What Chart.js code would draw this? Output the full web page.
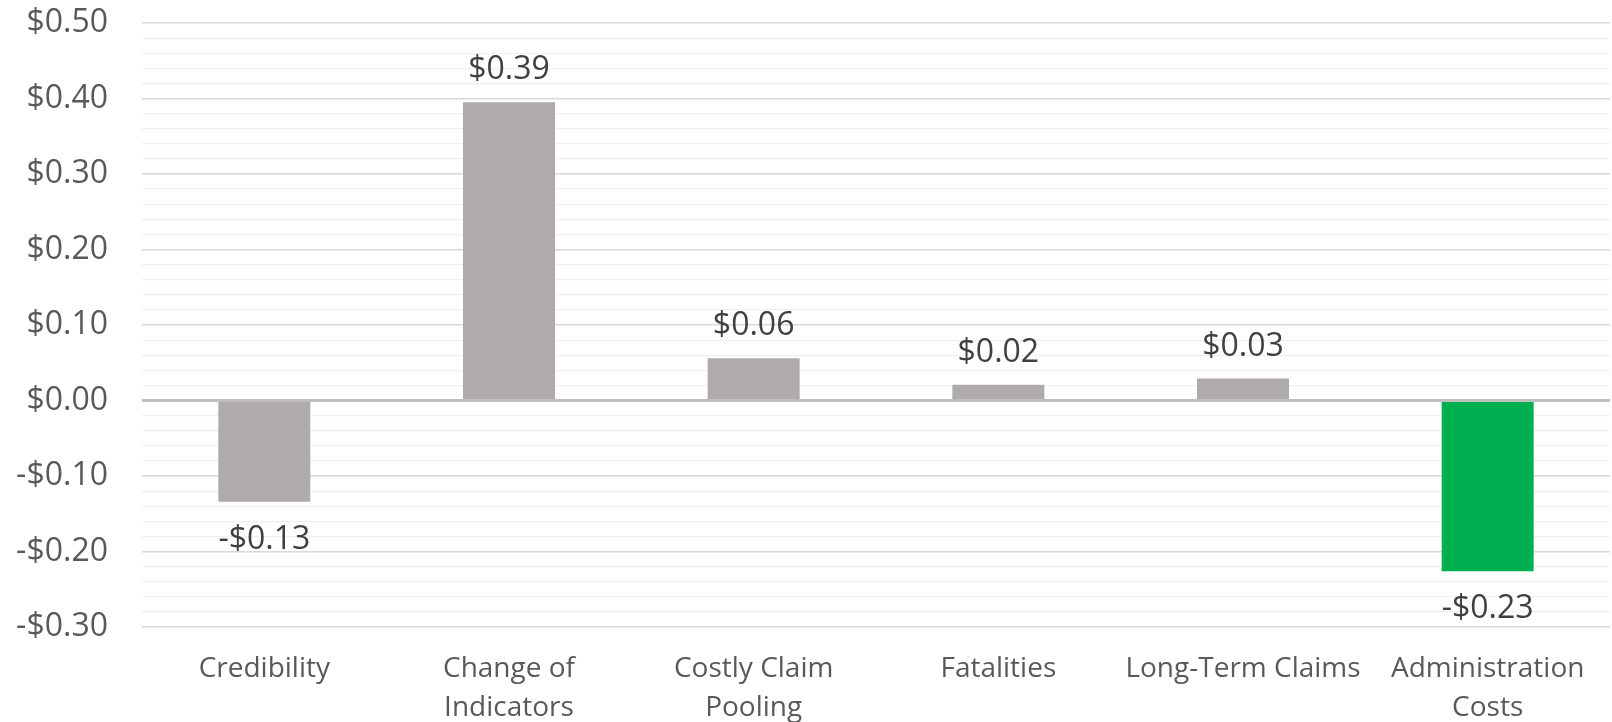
<!DOCTYPE html>
<html>
<head>
<meta charset="utf-8">
<script src="https://cdn.jsdelivr.net/npm/chart.js@4"></script>
<style>
  html, body { margin: 0; padding: 0; background: #fff; }
  #wrap { width: 1612px; height: 722px; }
</style>
</head>
<body>
<div id="wrap"><canvas id="chart" width="1612" height="722"></canvas></div>
<script>
const categories = [['Credibility'], ['Change of', 'Indicators'], ['Costly Claim', 'Pooling'], ['Fatalities'], ['Long-Term Claims'], ['Administration', 'Costs']];
const values = [-0.134, 0.395, 0.056, 0.021, 0.029, -0.226];
const valueLabels = ['-$0.13', '$0.39', '$0.06', '$0.02', '$0.03', '-$0.23'];
const barColors = ['#AFABAB', '#AFABAB', '#AFABAB', '#AFABAB', '#AFABAB', '#00B050'];
const yMin = -0.30, yMax = 0.50, yStep = 0.02;

function money(v) {
  const s = '$' + Math.abs(v).toFixed(2);
  return v < -0.0001 ? '-' + s : s;
}

// draws the value above / below each bar
const barLabels = {
  id: 'barLabels',
  afterDatasetsDraw(chart) {
    const ctx = chart.ctx;
    const meta = chart.getDatasetMeta(0);
    ctx.save();
    ctx.font = '32px "Open Sans", "Noto Sans", sans-serif';
    ctx.fillStyle = '#404040';
    ctx.textAlign = 'center';
    ctx.textBaseline = 'middle';
    meta.data.forEach((bar, i) => {
      const v = values[i];
      const y = v >= 0 ? bar.y - 32 : bar.y + 38;
      ctx.fillText(valueLabels[i], bar.x, y);
    });
    ctx.restore();
  }
};

new Chart(document.getElementById('chart'), {
  type: 'bar',
  data: {
    labels: categories,
    datasets: [{
      data: values,
      backgroundColor: barColors,
      borderWidth: 0,
      categoryPercentage: 1,
      barPercentage: 0.376
    }]
  },
  options: {
    responsive: false,
    devicePixelRatio: 1,
    animation: false,
    layout: { padding: { top: 23, right: 2, left: 0, bottom: 0 } },
    plugins: {
      legend: { display: false },
      tooltip: { enabled: false }
    },
    scales: {
      x: {
        grid: { display: false },
        border: { display: false },
        ticks: {
          color: '#595959',
          font: { family: '"Open Sans", "Noto Sans", sans-serif', size: 28, lineHeight: 1.41 },
          padding: 14,
          maxRotation: 0,
          autoSkip: false
        },
        afterFit(scale) { scale.height = 95; }
      },
      y: {
        min: yMin,
        max: yMax,
        border: { display: false },
        grid: {
          drawTicks: false,
          color(c) {
            const idx = Math.round(c.tick.value / yStep);
            if (idx === 0) return '#BFBFBF';
            return idx % 5 === 0 ? '#D9D9D9' : '#F0F0F0';
          },
          lineWidth(c) {
            const idx = Math.round(c.tick.value / yStep);
            if (idx === 0) return 3;
            return idx % 5 === 0 ? 1.5 : 1.2;
          }
        },
        ticks: {
          stepSize: yStep,
          autoSkip: false,
          color: '#595959',
          padding: 34,
          font: { family: '"Open Sans", "Noto Sans", sans-serif', size: 32 },
          callback(v) {
            const idx = Math.round(v / yStep);
            return idx % 5 === 0 ? money(idx * yStep) : '';
          }
        },
        afterFit(scale) {
          scale.width = 142;
          scale.paddingTop = 0;
          scale.paddingBottom = 0;
        }
      }
    }
  },
  plugins: [barLabels]
});
</script>
</body>
</html>
